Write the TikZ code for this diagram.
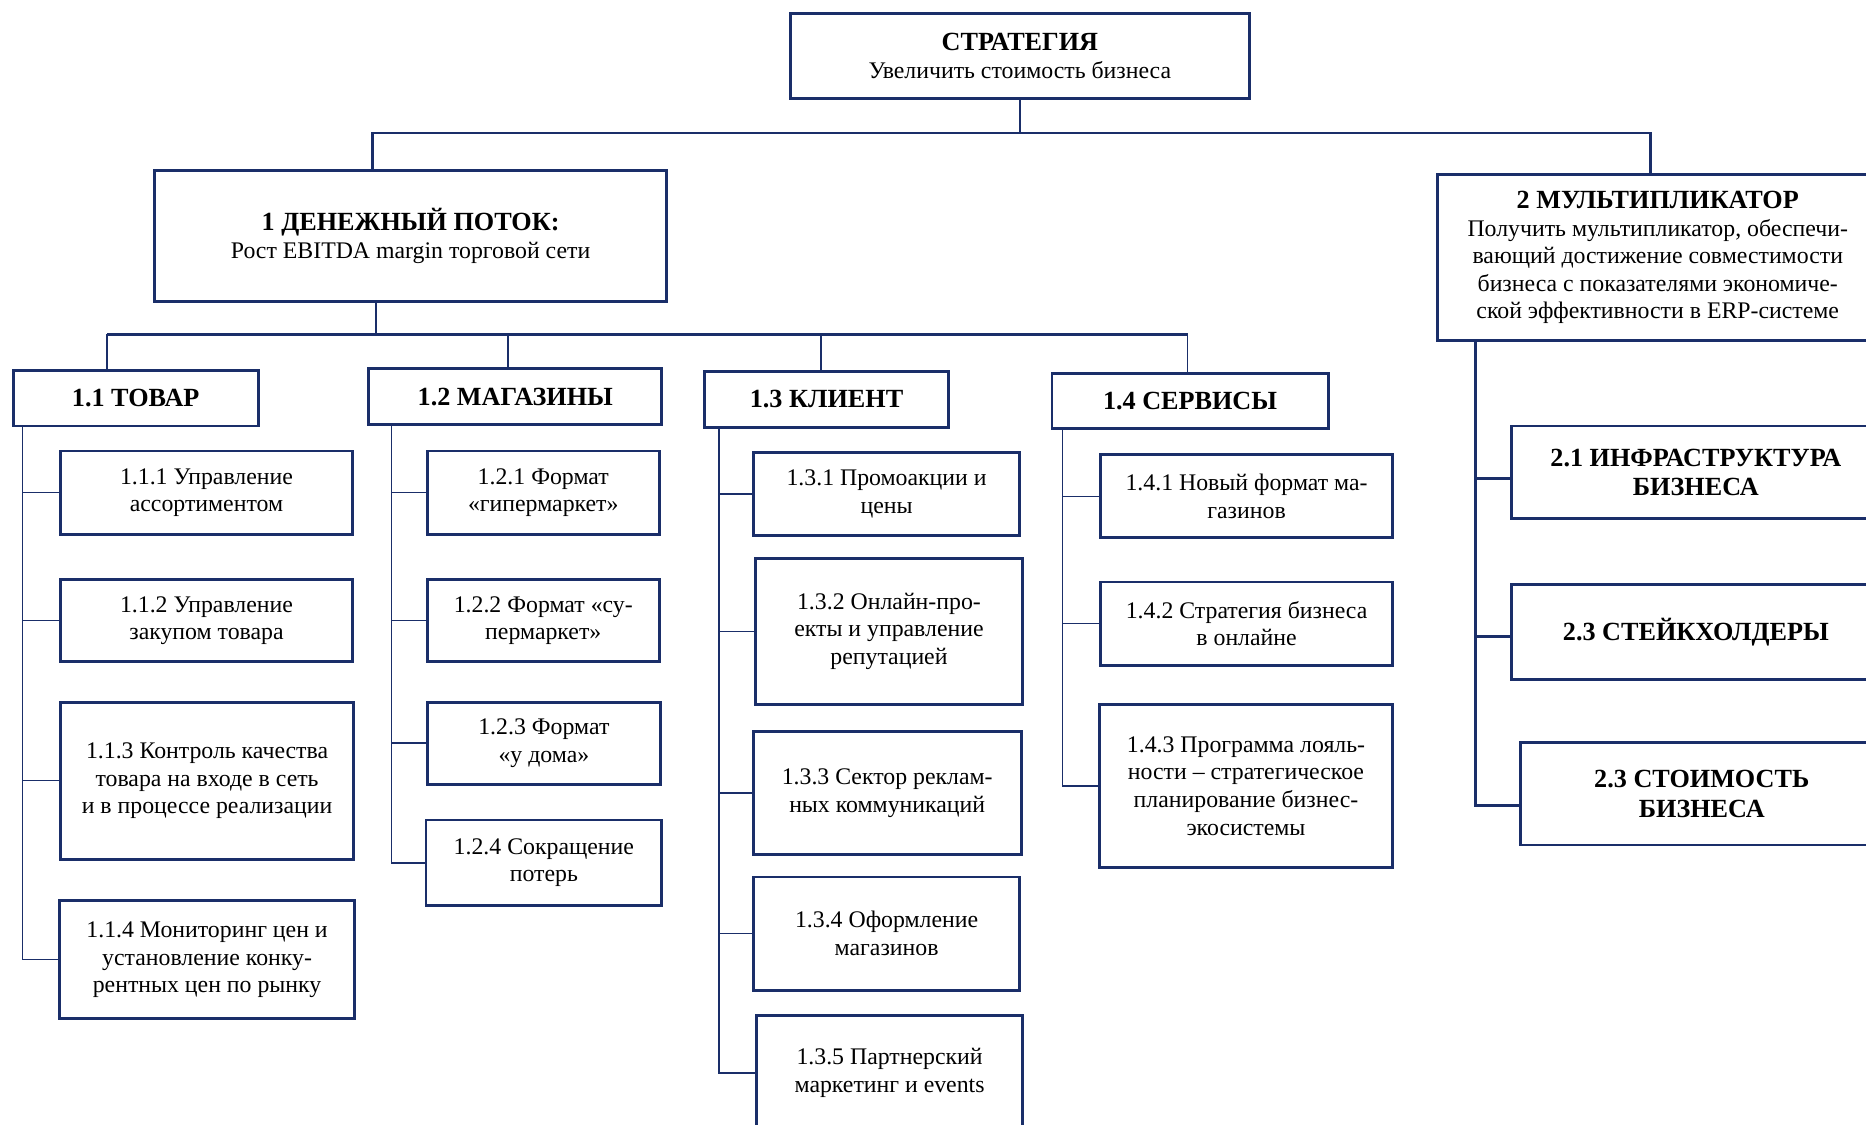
\documentclass[tikz,border=0pt]{standalone}
\usepackage{fontspec}
\setmainfont{Liberation Serif}
\definecolor{navy}{RGB}{26,46,105}
\newcommand\hdfont{\fontsize{11}{12.5}\selectfont\bfseries}
\newcommand\bx[7]{%
  \pgfmathsetmacro\bxw{(#5-#3)*0.5}%
  \pgfmathsetmacro\bxh{(#6-#4)*0.5}%
  \node[#1, minimum width=\bxw pt, minimum height=\bxh pt] (#2) at ({(#3+#5)/2},{(#4+#6)/2}) {#7};}
\begin{document}
\begin{tikzpicture}[x=0.5pt,y=-0.5pt,
  box/.style={draw=navy, line width=1.2pt, fill=white, inner sep=0pt, align=center,
    font=\fontsize{10}{11.6}\selectfont},
  hbox/.style={box, font=\fontsize{11}{12.5}\selectfont\bfseries},
  thickc/.style={draw=navy, line width=1pt},
  thinc/.style={draw=navy, line width=0.6pt}]
\clip (0,0) rectangle (1568,945);
\fill[white] (0,0) rectangle (1568,945);

% top level
\bx{box}{strat}{664}{11}{1050}{83}{{\hdfont СТРАТЕГИЯ}\\Увеличить стоимость бизнеса}
\bx{box}{box1}{130}{143}{560}{253}{{\hdfont 1 ДЕНЕЖНЫЙ ПОТОК:}\\Рост EBITDA margin торговой сети}
\bx{box}{box2}{1208}{147}{1578}{286}{{\hdfont 2 МУЛЬТИПЛИКАТОР}\\Получить мультипликатор, обеспечи-\\вающий достижение совместимости\\бизнеса с показателями экономиче-\\ской эффективности в ERP-системе}

% second level
\bx{hbox}{t11}{11}{311}{217}{358}{1.1 ТОВАР}
\bx{hbox}{t12}{310}{310}{556}{357}{1.2 МАГАЗИНЫ}
\bx{hbox}{t13}{592}{312}{797}{359}{1.3 КЛИЕНТ}
\bx{hbox}{t14}{884}{314}{1116}{360}{1.4 СЕРВИСЫ}

% 1.1
\bx{box}{b111}{51}{379}{296}{449}{1.1.1 Управление\\ассортиментом}
\bx{box}{b112}{51}{487}{296}{556}{1.1.2 Управление\\закупом товара}
\bx{box}{b113}{51}{590}{297}{722}{1.1.3 Контроль качества\\товара на входе в сеть\\и в процессе реализации}
\bx{box}{b114}{50}{757}{298}{856}{1.1.4 Мониторинг цен и\\установление конку-\\рентных цен по рынку}
% 1.2
\bx{box}{b121}{359}{379}{554}{449}{1.2.1 Формат\\«гипермаркет»}
\bx{box}{b122}{359}{487}{554}{556}{1.2.2 Формат «су-\\пермаркет»}
\bx{box}{b123}{359}{590}{555}{659}{1.2.3 Формат\\«у дома»}
\bx{box}{b124}{358}{689}{556}{761}{1.2.4 Сокращение\\потерь}
% 1.3
\bx{box}{b131}{633}{380}{857}{450}{1.3.1 Промоакции и\\цены}
\bx{box}{b132}{635}{469}{859}{592}{1.3.2 Онлайн-про-\\екты и управление\\репутацией}
\bx{box}{b133}{633}{615}{858}{718}{1.3.3 Сектор реклам-\\ных коммуникаций}
\bx{box}{b134}{633}{737}{857}{832}{1.3.4 Оформление\\магазинов}
\bx{box}{b135}{636}{853}{859}{950}{1.3.5 Партнерский\\маркетинг и events}
% 1.4
\bx{box}{b141}{925}{382}{1170}{452}{1.4.1 Новый формат ма-\\газинов}
\bx{box}{b142}{925}{489}{1170}{559}{1.4.2 Стратегия бизнеса\\в онлайне}
\bx{box}{b143}{924}{592}{1170}{729}{1.4.3 Программа лояль-\\ности – стратегическое\\планирование бизнес-\\экосистемы}
% 2.x
\bx{hbox}{b21}{1270}{358}{1580}{436}{2.1 ИНФРАСТРУКТУРА\\БИЗНЕСА}
\bx{hbox}{b22}{1270}{491}{1580}{571}{2.3 СТЕЙКХОЛДЕРЫ}
\bx{hbox}{b23}{1278}{624}{1582}{710}{2.3 СТОИМОСТЬ\\БИЗНЕСА}

% connectors: top
\coordinate (tL) at (313,112);
\coordinate (tR) at (1387,112);
\draw[thickc] (strat.south) -- (strat.south |- tL);
\draw[thickc] (tL |- box1.north) -- (tL) -- (tR) -- (tR |- box2.north);

% connectors: level 1
\coordinate (m) at (316,281);
\coordinate (h1) at (90,281);
\coordinate (h2) at (427,281);
\coordinate (h3) at (690,281);
\coordinate (h4) at (998,281);
\draw[thickc] (m |- box1.south) -- (m);
\draw[thickc] (h1) -- (h4);
\draw[thinc] (h1) -- (h1 |- t11.north);
\draw[thinc] (h2) -- (h2 |- t12.north);
\draw[thinc] (h3) -- (h3 |- t13.north);
\draw[thinc] (h4) -- (h4 |- t14.north);

% column 1.1
\coordinate (c11) at (19,0);
\draw[thinc] (c11 |- t11.south) -- (c11 |- b114.west) -- (b114.west);
\draw[thinc] (c11 |- b111.west) -- (b111.west);
\draw[thinc] (c11 |- b112.west) -- (b112.west);
\draw[thinc] (c11 |- b113.west) -- (b113.west);
% column 1.2
\coordinate (c12) at (329,0);
\draw[thinc] (c12 |- t12.south) -- (c12 |- b124.west) -- (b124.west);
\draw[thinc] (c12 |- b121.west) -- (b121.west);
\draw[thinc] (c12 |- b122.west) -- (b122.west);
\draw[thinc] (c12 |- b123.west) -- (b123.west);
% column 1.3
\coordinate (c13) at (604,0);
\draw[thinc] (c13 |- t13.south) -- (c13 |- b135.west) -- (b135.west);
\draw[thinc] (c13 |- b131.west) -- (b131.west);
\draw[thinc] (c13 |- b132.west) -- (b132.west);
\draw[thinc] (c13 |- b133.west) -- (b133.west);
\draw[thinc] (c13 |- b134.west) -- (b134.west);
% column 1.4
\coordinate (c14) at (893,0);
\draw[thinc] (c14 |- t14.south) -- (c14 |- b143.west) -- (b143.west);
\draw[thinc] (c14 |- b141.west) -- (b141.west);
\draw[thinc] (c14 |- b142.west) -- (b142.west);
% column 2
\coordinate (c2) at (1240,0);
\coordinate (e21) at ([yshift=-2.5pt]b21.west);
\coordinate (e22) at ([yshift=-2pt]b22.west);
\coordinate (e23) at ([yshift=-5pt]b23.west);
\draw[thickc] (c2 |- box2.south) -- (c2 |- e23) -- (e23);
\draw[thickc] (c2 |- e21) -- (e21);
\draw[thickc] (c2 |- e22) -- (e22);
\end{tikzpicture}
\end{document}
